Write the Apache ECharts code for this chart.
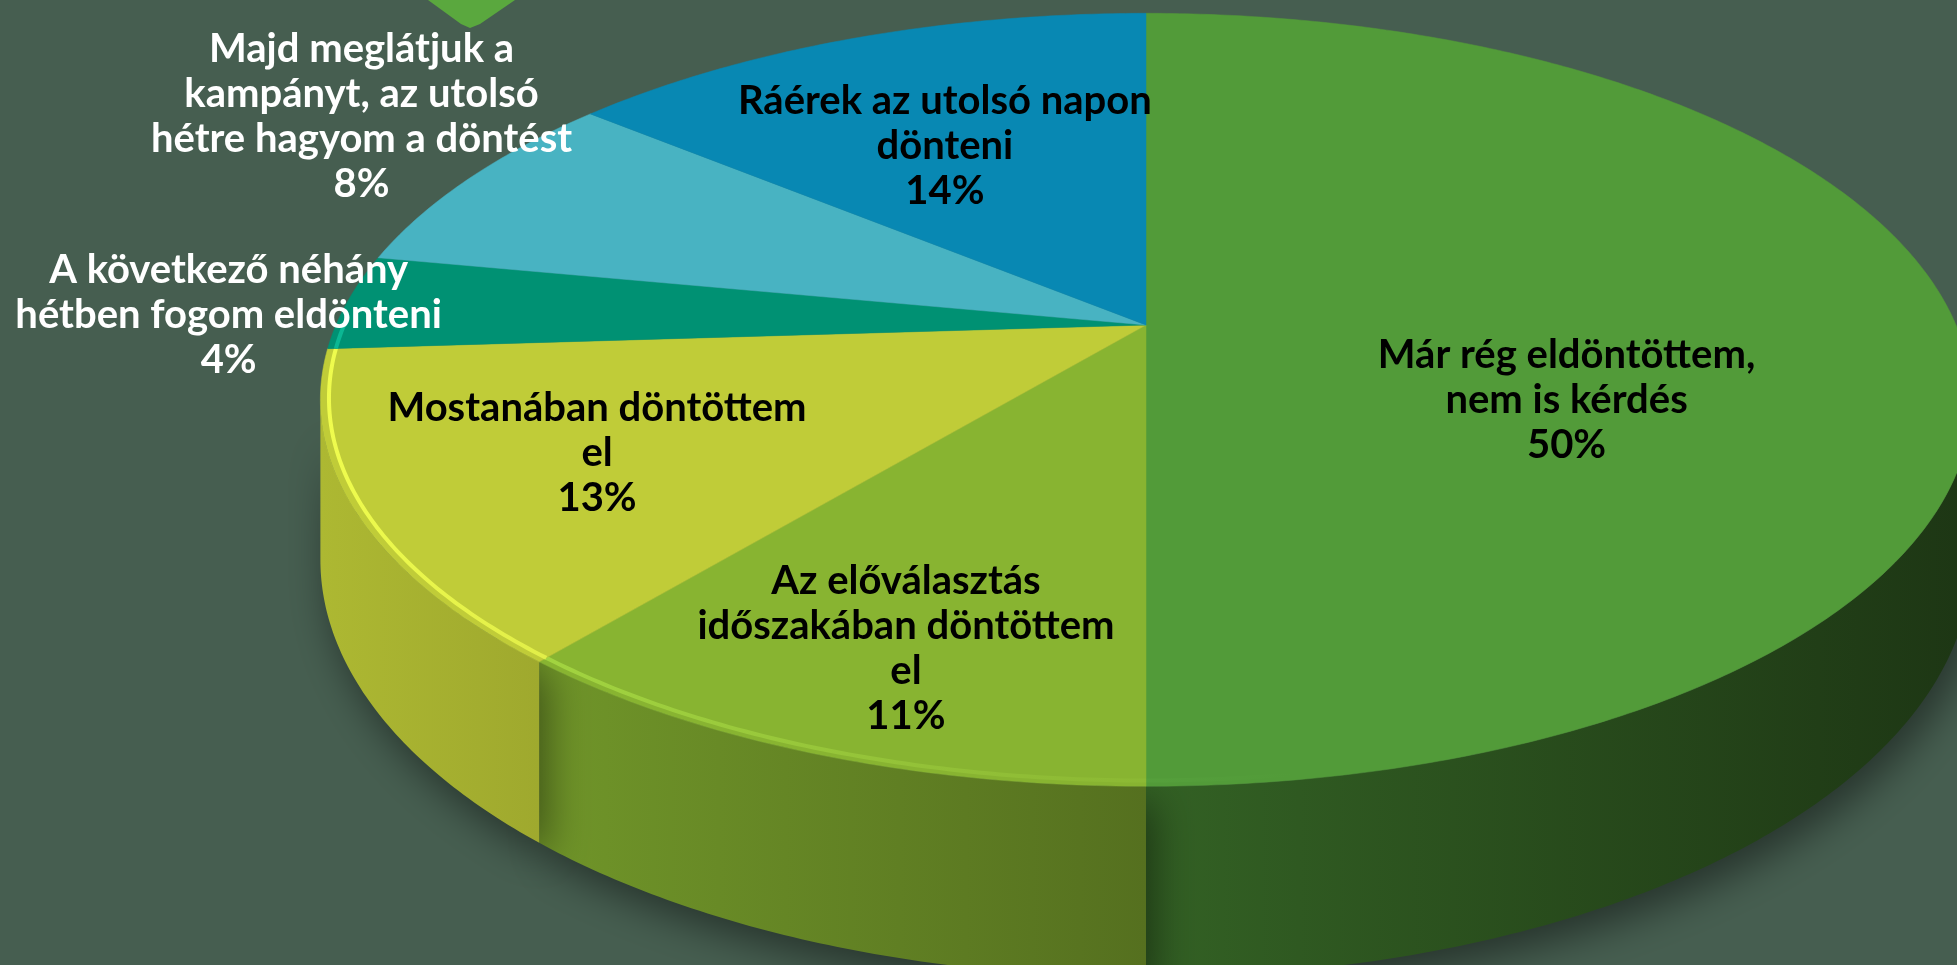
<!DOCTYPE html>
<html>
<head>
<meta charset="utf-8">
<script src="https://cdn.jsdelivr.net/npm/echarts@6/dist/echarts.min.js"></script>
<style>
html, body { margin: 0; padding: 0; background: #465e50; }
#chart { width: 1957px; height: 965px; }
</style>
</head>
<body>
<div id="chart"></div>
<script>
// adatok
const NAMES = [
    "Már rég eldöntöttem,\nnem is kérdés",
    "Az előválasztás\nidőszakában döntöttem\nel",
    "Mostanában döntöttem\nel",
    "A következő néhány\nhétben fogom eldönteni",
    "Majd meglátjuk a\nkampányt, az utolsó\nhétre hagyom a döntést",
    "Ráérek az utolsó napon\ndönteni",
];
const VALUES = [50, 11, 13, 4, 8, 14];
const COLORS = ["#529b39", "#88b431", "#c0cc38", "#009173", "#48b3c2", "#0888b3"];

// 3D pie geometry
const CX = 1146, CY = 325, RX = 810, RY = 372, PERSP = 0.1935, DEPTH = 154;
// label anchor: radius fraction + angle nudge (deg), text colour
const labelR = [0.536, 0.787, 0.713, 1.139, 1.254, 0.597];
const labelShift = [21.2, -1, 0, -2.2, 4.8, -2.1];
const labelColor = ["#000", "#000", "#000", "#fff", "#fff", "#000"];

const total = VALUES.reduce((a, b) => a + b, 0);
const START = [];
let acc = 0;
VALUES.forEach((v) => {
    START.push((acc / total) * Math.PI * 2);
    acc += v;
});
const SPAN = VALUES.map((v) => (v / total) * Math.PI * 2);

const project = (t, r, drop) => {
    const X = r * Math.sin(t), Z = r * Math.cos(t);
    const s = 1 / (1 + PERSP * Z);
    return [CX + RX * X * s, CY + (-RY * Z + drop) * s];
};

// visible part of the rim (silhouette)
const VIS0 = Math.acos(-PERSP), VIS1 = Math.PI * 2 - Math.acos(-PERSP);

const XMIN = CX - RX * 1.02, XMAX = CX + RX * 1.02;
const rgb = (hex) => {
    const n = parseInt(hex.slice(1), 16);
    return [(n >> 16) & 255, (n >> 8) & 255, n & 255];
};
const shade = (hex, x) => {
    const t = Math.min(1, Math.max(0, (x - XMIN) / (XMAX - XMIN)));
    const f = 1 - (0.1 + 0.55 * t);
    return "rgb(" + rgb(hex).map((v) => Math.round(v * f)).join(",") + ")";
};
const bright = (hex, f, a) => {
    const c = rgb(hex).map((v) => Math.min(255, Math.round(v * f + 12)));
    return "rgba(" + c.join(",") + "," + a + ")";
};

const arc = (a0, a1, r, drop) => {
    const pts = [];
    const n = Math.max(4, Math.ceil((a1 - a0) / 0.01));
    for (let k = 0; k <= n; k++) pts.push(project(a0 + ((a1 - a0) * k) / n, r, drop));
    return pts;
};

// side walls (front half only)
const renderSide = (params, api) => {
    const i = params.dataIndex;
    const a0 = Math.max(START[i], VIS0);
    const a1 = Math.min(START[i] + SPAN[i], VIS1);
    if (a1 <= a0) return { type: "group", children: [] };
    const top = arc(a0, a1, 1, 0);
    const bottom = arc(a0, a1, 1, DEPTH).reverse();
    const xs = top.map((p) => p[0]);
    const x0 = Math.min(...xs), x1 = Math.max(...xs);
    const c = COLORS[i];
    return {
        type: "group",
        children: [
            {
                type: "polygon",
                shape: { points: top.concat(bottom) },
                style: {
                    fill: {
                        type: "linear", x: x0, y: 0, x2: x1, y2: 0, global: true,
                        colorStops: [
                            { offset: 0, color: shade(c, x0) },
                            { offset: 1, color: shade(c, x1) },
                        ],
                    },
                    shadowBlur: 40,
                    shadowColor: "rgba(0,0,0,0.45)",
                    shadowOffsetX: 8,
                    shadowOffsetY: 16,
                },
            },
        ],
    };
};

// top faces + labels
const renderTop = (params, api) => {
    const i = params.dataIndex;
    const a0 = START[i], a1 = START[i] + SPAN[i];
    const c = COLORS[i];
    const children = [
        {
            type: "polygon",
            shape: { points: [[CX, CY]].concat(arc(a0, a1, 1, 0)) },
            style: { fill: c, stroke: c, lineWidth: 0.5 },
        },
    ];
    // bevel highlight along the front edge, lit from the left
    const h0 = Math.max(a0, Math.PI / 2), h1 = Math.min(a1, Math.PI * 1.5);
    if (h1 > h0) {
        children.push({
            type: "polyline",
            shape: { points: arc(h0, h1, 0.99, 0) },
            style: {
                stroke: {
                    type: "linear", x: XMIN, y: 0, x2: CX + 150, y2: 0, global: true,
                    colorStops: [
                        { offset: 0, color: bright(c, 1.2, 0.95) },
                        { offset: 1, color: bright(c, 1.1, 0) },
                    ],
                },
                lineWidth: 4,
                fill: null,
            },
        });
    }
    const mid = (a0 + a1) / 2 + (labelShift[i] * Math.PI) / 180;
    const p = project(mid, labelR[i], 0);
    const pct = Math.round((api.value(0) / total) * 100) + "%";
    children.push({
        type: "text",
        style: {
            text: NAMES[i] + "\n" + pct,
            x: p[0],
            y: p[1],
            align: "center",
            verticalAlign: "middle",
            fill: labelColor[i],
            fontFamily: "Lato",
            fontWeight: "bold",
            fontSize: 40,
            lineHeight: 45,
        },
    });
    return { type: "group", children: children };
};

const chart = echarts.init(document.getElementById("chart"));
const seriesData = VALUES.map((v, i) => ({ value: v, name: NAMES[i] }));
chart.setOption({
    backgroundColor: "#465e50",
    animation: false,
    graphic: [
        {
            type: "polygon",
            shape: { points: [[428, 0], [515, 0], [480, 24], [470, 28], [461, 24]] },
            style: { fill: "#5aa83e" },
        },
    ],
    series: [
        { type: "custom", coordinateSystem: "none", renderItem: renderSide, data: seriesData, z: 1 },
        { type: "custom", coordinateSystem: "none", renderItem: renderTop, data: seriesData, z: 2 },
    ],
});
</script>
</body>
</html>
